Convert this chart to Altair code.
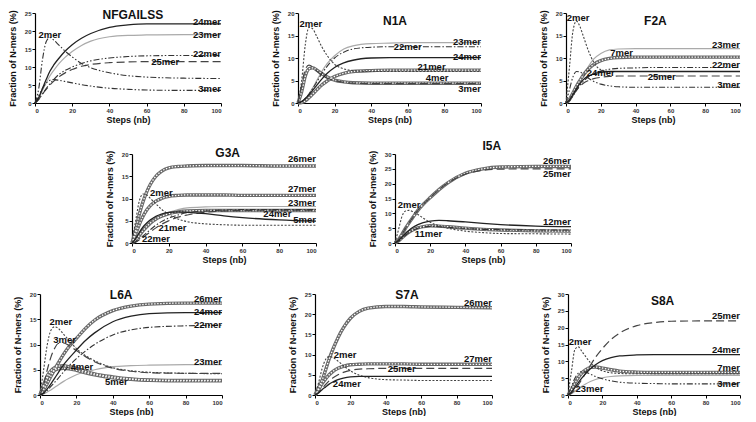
import altair as alt
import pandas as pd

FONT = "Liberation Sans, Arial"
XS = [0, 2, 4, 6, 8, 10, 13, 16, 20, 25, 30, 40, 50, 60, 80, 100]
X_TICKS = [0, 20, 40, 60, 80, 100]

# panel titles and where they sit (data units of each panel)
panel_names = ["NFGAILSS", "N1A", "F2A", "G3A", "I5A", "L6A", "S7A", "S8A"]
title_x = [52.6, 53, 51.4, 52, 55, 44.6, 52, 55]
title_y = [24.5, 18.2, 18.3, 20.2, 32.7, 19.8, 24.8, 28]
y_max = [25, 20, 20, 20, 30, 20, 25, 30]

# ---------------- NFGAILSS ----------------
nfg_24 = [0, 1.5, 4, 6.5, 8.8, 10.5, 12.5, 14.3, 16.2, 18, 19.3, 21, 21.7, 22, 22, 22]
nfg_23 = [0, 1.3, 3.5, 5.6, 7.5, 9, 11, 12.6, 14.3, 16, 17.2, 18.4, 18.8, 18.9, 19, 19]
nfg_2 = [0, 4, 12, 17, 18.2, 17.5, 16, 14.5, 12.8, 11, 9.8, 8.4, 7.6, 7.2, 6.9, 6.8]
nfg_22 = [0, 1, 2.5, 4, 5.3, 6.5, 8, 9, 10, 11, 11.7, 12.5, 12.9, 13.1, 13.2, 13.2]
nfg_25 = [0, 1, 2.5, 3.8, 5, 6, 7.3, 8.3, 9.3, 10.2, 10.7, 11.2, 11.4, 11.5, 11.5, 11.5]
nfg_3 = [0, 2, 4, 5.5, 6.3, 6.5, 6.3, 6, 5.6, 5.1, 4.7, 4.1, 3.8, 3.6, 3.5, 3.5]
nfg_lab = ["24mer", "23mer", "22mer", "25mer", "3mer", "2mer"]
nfg_lab_x = [100, 100, 100, 70, 100, 8]
nfg_lab_y = [22.6, 19, 13.6, 11.5, 3.8, 19]

# ---------------- N1A ----------------
n1a_2 = [0, 5, 13, 16.8, 16.5, 15, 12.5, 10.5, 8.6, 7.6, 7.2, 7, 7, 7, 7, 7]
n1a_23 = [0, 0.3, 1, 2, 3.3, 4.8, 7, 8.8, 10.5, 12, 12.7, 13.2, 13.3, 13.4, 13.4, 13.4]
n1a_22 = [0, 0.3, 1, 2, 3.2, 4.5, 6.5, 8.2, 10, 11.3, 12, 12.4, 12.5, 12.5, 12.5, 12.5]
n1a_24 = [0, 0.3, 1, 1.8, 2.8, 3.8, 5.3, 6.6, 7.9, 8.9, 9.5, 10, 10.1, 10.1, 10.1, 10.1]
n1a_21 = [0, 0.1, 0.5, 1.2, 2, 2.8, 4, 4.9, 5.9, 6.6, 7, 7.2, 7.3, 7.3, 7.3, 7.3]
n1a_4 = [0, 4, 7.5, 8.4, 8, 7.2, 6.2, 5.5, 5, 4.6, 4.4, 4.3, 4.3, 4.3, 4.3, 4.3]
n1a_3 = [0, 2.5, 6, 7.6, 7.8, 7.4, 6.5, 5.8, 5.1, 4.7, 4.5, 4.4, 4.4, 4.4, 4.4, 4.4]
n1a_lab = ["2mer", "23mer", "22mer", "24mer", "21mer", "4mer", "3mer"]
n1a_lab_x = [7, 100, 60, 100, 73, 76, 100]
n1a_lab_y = [17.6, 13.6, 12.4, 10.3, 8.1, 5.6, 3.2]

# ---------------- F2A ----------------
f2a_2 = [0, 8, 16, 18.2, 17, 14.8, 11.5, 9, 7.4, 7, 7, 7, 7, 7, 7, 7]
f2a_23 = [0, 0.5, 1.6, 3, 4.6, 6.2, 8.2, 9.8, 11, 11.8, 12, 12.1, 12.1, 12.1, 12.1, 12.1]
f2a_7 = [0, 0.8, 2.2, 3.7, 5, 6.2, 7.6, 8.6, 9.4, 9.9, 10.1, 10.2, 10.2, 10.2, 10.2, 10.2]
f2a_22 = [0, 0.5, 1.6, 2.8, 3.9, 4.8, 5.8, 6.5, 7.1, 7.5, 7.7, 7.8, 7.9, 7.9, 7.9, 7.9]
f2a_24 = [0, 0.7, 1.9, 3.2, 4.3, 5.2, 6, 6.5, 6.8, 7, 7, 7, 7, 7, 7, 7]
f2a_25 = [0, 0.6, 1.7, 2.8, 3.7, 4.4, 5, 5.4, 5.7, 5.9, 6, 6, 6, 6, 6, 6]
f2a_3 = [0, 3, 5.8, 7, 6.9, 6.4, 5.5, 4.8, 4.2, 3.8, 3.6, 3.5, 3.5, 3.5, 3.5, 3.5]
f2a_lab = ["2mer", "23mer", "7mer", "22mer", "24mer", "25mer", "3mer"]
f2a_lab_x = [7, 100, 32, 100, 20, 55, 100]
f2a_lab_y = [18.9, 12.9, 11.1, 8.5, 6.6, 5.8, 4]

# ---------------- G3A ----------------
g3a_26 = [0, 3, 6.5, 9.3, 11.5, 13.2, 15, 16.1, 16.9, 17.2, 17.3, 17.4, 17.4, 17.4, 17.3, 17.3]
g3a_27 = [0, 2, 4.2, 6, 7.4, 8.4, 9.4, 10, 10.5, 10.7, 10.8, 10.8, 10.8, 10.7, 10.7, 10.7]
g3a_2 = [0, 5, 9.5, 11, 10.8, 10, 8.8, 7.6, 6.4, 5.4, 4.8, 4.3, 4.1, 4, 4, 4]
g3a_23 = [0, 0.5, 1.4, 2.4, 3.3, 4.1, 5.2, 6, 6.9, 7.5, 7.9, 8.1, 8.2, 8.2, 8.2, 8.2]
g3a_24 = [0, 0.3, 0.9, 1.6, 2.3, 3, 4, 4.8, 5.6, 6.3, 6.8, 7.2, 7.4, 7.5, 7.5, 7.5]
g3a_5 = [0, 1, 2.4, 3.6, 4.5, 5.2, 6, 6.5, 6.9, 7, 6.9, 6.6, 6.1, 5.7, 5.2, 4.9]
g3a_21 = [0, 0.6, 1.7, 2.8, 3.7, 4.5, 5.4, 6, 6.6, 7, 7.2, 7.3, 7.3, 7.3, 7.3, 7.3]
g3a_22 = [0, 0.2, 0.7, 1.3, 1.9, 2.5, 3.4, 4.2, 5, 5.8, 6.3, 6.9, 7.2, 7.3, 7.4, 7.4]
g3a_lab = ["26mer", "27mer", "2mer", "23mer", "24mer", "5mer", "21mer", "22mer"]
g3a_lab_x = [100, 100, 16, 100, 79, 100, 22, 13]
g3a_lab_y = [18.8, 12.2, 11.3, 9, 6.6, 5.1, 3.4, 0.8]

# ---------------- I5A ----------------
i5a_26 = [0, 1.2, 3, 5, 6.8, 8.5, 11, 13, 15.3, 18, 20.3, 23.5, 25, 25.6, 25.8, 25.8]
i5a_25 = [0, 1.2, 3, 5, 6.8, 8.5, 11, 13, 15.3, 18, 20.2, 23.2, 24.5, 24.9, 25, 25]
i5a_2 = [0, 4.5, 9, 10.8, 11, 10.6, 9.6, 8.4, 7, 5.8, 5, 4, 3.5, 3.2, 3.1, 3]
i5a_12 = [0, 0.8, 2, 3.2, 4.3, 5.2, 6.2, 6.9, 7.4, 7.6, 7.5, 7.1, 6.6, 6.2, 5.7, 5.5]
i5a_11 = [0, 0.7, 1.8, 2.8, 3.7, 4.4, 5.1, 5.5, 5.8, 5.7, 5.5, 5, 4.6, 4.4, 4.1, 4]
i5a_x = [0, 0.6, 1.6, 2.6, 3.5, 4.2, 5, 5.4, 5.6, 5.5, 5.3, 4.9, 4.6, 4.5, 4.4, 4.4]
i5a_lab = ["26mer", "25mer", "2mer", "12mer", "11mer"]
i5a_lab_x = [100, 100, 8, 100, 19]
i5a_lab_y = [27.8, 23.2, 12.7, 7.2, 3.1]

# ---------------- L6A ----------------
l6a_26 = [0, 1, 2.3, 3.7, 5, 6.3, 8.1, 9.6, 11.2, 13.2, 14.8, 16.7, 17.6, 18, 18.2, 18.2]
l6a_24 = [0, 0.4, 1.2, 2.2, 3.3, 4.4, 6, 7.3, 8.9, 10.8, 12.3, 14.5, 15.6, 16.1, 16.3, 16.3]
l6a_22 = [0, 0.3, 0.9, 1.7, 2.5, 3.3, 4.6, 5.8, 7.2, 8.7, 10, 11.9, 12.9, 13.4, 13.7, 13.8]
l6a_2 = [0, 5, 10, 12.8, 13.5, 13.2, 12, 10.8, 9.2, 7.8, 6.8, 5.4, 4.8, 4.5, 4.3, 4.2]
l6a_3 = [0, 2, 5, 7.5, 9.2, 10.2, 10.3, 9.8, 8.8, 7.6, 6.6, 5.3, 4.7, 4.4, 4.3, 4.3]
l6a_23 = [0, 0.2, 0.6, 1, 1.5, 2, 2.7, 3.3, 4, 4.6, 5, 5.6, 5.8, 5.9, 6, 6]
l6a_4 = [0, 2, 3.8, 4.8, 5.4, 5.7, 5.8, 5.6, 5.3, 4.7, 4.2, 3.6, 3.2, 3, 2.9, 2.9]
l6a_5 = [0, 1.6, 3.3, 4.3, 4.9, 5.2, 5.3, 5.2, 4.9, 4.4, 4, 3.4, 3.1, 2.9, 2.8, 2.8]
l6a_lab = ["26mer", "24mer", "22mer", "2mer", "3mer", "23mer", "4mer", "5mer"]
l6a_lab_x = [100, 100, 100, 11.5, 13.5, 100, 23, 42]
l6a_lab_y = [19, 16.5, 13.9, 14.5, 10.9, 6.6, 5.5, 2.5]

# ---------------- S7A ----------------
s7a_26 = [0, 1.8, 3.6, 6.2, 8.9, 11.2, 14.2, 16.6, 19, 20.7, 21.5, 21.9, 21.9, 21.8, 21.7, 21.6]
s7a_27 = [0, 1.3, 2.8, 4, 5, 5.8, 6.6, 7.1, 7.5, 7.6, 7.7, 7.7, 7.7, 7.6, 7.6, 7.6]
s7a_2 = [0, 3, 6.5, 8.8, 9.5, 9.3, 8.4, 7.3, 6, 4.9, 4.3, 3.8, 3.7, 3.6, 3.6, 3.6]
s7a_25 = [0, 0.6, 1.6, 2.6, 3.5, 4.2, 5, 5.6, 6.1, 6.4, 6.5, 6.6, 6.6, 6.6, 6.6, 6.6]
s7a_24 = [0, 0.5, 1.3, 2, 2.7, 3.2, 3.8, 4.2, 4.5, 4.6, 4.6, 4.6, 4.6, 4.6, 4.6, 4.6]
s7a_lab = ["26mer", "2mer", "27mer", "25mer", "24mer"]
s7a_lab_x = [100, 17, 100, 49, 18]
s7a_lab_y = [22.8, 9.8, 9, 6.4, 2.6]

# ---------------- S8A ----------------
s8a_25 = [0, 0.5, 1.6, 3, 4.6, 6.3, 8.8, 11.2, 13.8, 16.5, 18.4, 20.6, 21.5, 21.9, 22, 22]
s8a_2 = [0, 7, 13.5, 14.3, 13, 11.6, 9.6, 8.3, 7.2, 6.6, 6.4, 6.3, 6.3, 6.3, 6.3, 6.3]
s8a_24 = [0, 0.8, 2.2, 3.7, 5, 6.2, 7.8, 9, 10.2, 11.1, 11.6, 11.9, 12, 12, 12, 12]
s8a_7 = [0, 1.5, 3.5, 5.2, 6.5, 7.4, 8.2, 8.3, 8, 7.5, 7.1, 6.8, 6.7, 6.7, 6.7, 6.7]
s8a_23 = [0, 0.4, 1.1, 1.9, 2.6, 3.2, 4, 4.6, 5.1, 5.5, 5.7, 5.8, 5.8, 5.8, 5.8, 5.8]
s8a_3 = [0, 2.5, 5, 6.5, 7, 6.8, 6.2, 5.5, 4.8, 4.2, 3.8, 3.5, 3.4, 3.3, 3.3, 3.3]
s8a_lab = ["25mer", "2mer", "24mer", "7mer", "3mer", "23mer"]
s8a_lab_x = [100, 7, 100, 100, 100, 12.5]
s8a_lab_y = [23.5, 15.8, 13.4, 8, 3.2, 1.7]

# line styles (each style may be drawn as several stacked strokes)
STYLES = {
    "light": [dict(color="#aaaaaa", strokeWidth=1.2)],
    "bead": [dict(color="#6a6a6a", strokeWidth=3.4),
             dict(color="#ffffff", strokeWidth=1.3, strokeDash=[1.4, 1.6])],
    "dash": [dict(color="#444444", strokeWidth=1.2, strokeDash=[8, 4])],
    "dashdot": [dict(color="#333333", strokeWidth=1.1, strokeDash=[6, 2, 1.5, 2])],
    "dashdotdot": [dict(color="#333333", strokeWidth=1.1, strokeDash=[6, 2, 1.5, 2, 1.5, 2])],
    "dot": [dict(color="#444444", strokeWidth=1.1, strokeDash=[2, 1.6])],
    "solid": [dict(color="#222222", strokeWidth=1.3)],
}

SERIES = [
    [("24mer", "solid", nfg_24), ("23mer", "light", nfg_23), ("2mer", "dashdotdot", nfg_2),
     ("22mer", "dashdotdot", nfg_22), ("25mer", "dash", nfg_25), ("3mer", "dashdotdot", nfg_3)],
    [("2mer", "dot", n1a_2), ("23mer", "light", n1a_23), ("22mer", "dashdot", n1a_22),
     ("24mer", "solid", n1a_24), ("21mer", "bead", n1a_21), ("4mer", "dash", n1a_4), ("3mer", "bead", n1a_3)],
    [("2mer", "dot", f2a_2), ("23mer", "light", f2a_23), ("7mer", "bead", f2a_7),
     ("22mer", "dashdotdot", f2a_22), ("24mer", "solid", f2a_24), ("25mer", "dash", f2a_25),
     ("3mer", "dashdotdot", f2a_3)],
    [("26mer", "bead", g3a_26), ("27mer", "bead", g3a_27), ("2mer", "dot", g3a_2),
     ("23mer", "light", g3a_23), ("24mer", "dashdot", g3a_24), ("5mer", "solid", g3a_5),
     ("21mer", "bead", g3a_21), ("22mer", "dash", g3a_22)],
    [("26mer", "bead", i5a_26), ("25mer", "dash", i5a_25), ("2mer", "dot", i5a_2),
     ("12mer", "solid", i5a_12), ("11mer", "bead", i5a_11), ("other", "dashdot", i5a_x)],
    [("26mer", "bead", l6a_26), ("24mer", "solid", l6a_24), ("22mer", "dashdot", l6a_22),
     ("2mer", "dot", l6a_2), ("3mer", "dash", l6a_3), ("23mer", "light", l6a_23),
     ("4mer", "bead", l6a_4), ("5mer", "bead", l6a_5)],
    [("26mer", "bead", s7a_26), ("27mer", "bead", s7a_27), ("2mer", "dot", s7a_2),
     ("25mer", "dash", s7a_25), ("24mer", "solid", s7a_24)],
    [("25mer", "dash", s8a_25), ("2mer", "dot", s8a_2), ("24mer", "solid", s8a_24),
     ("7mer", "bead", s8a_7), ("23mer", "light", s8a_23), ("3mer", "dashdotdot", s8a_3)],
]
LABELS = [(nfg_lab, nfg_lab_x, nfg_lab_y), (n1a_lab, n1a_lab_x, n1a_lab_y), (f2a_lab, f2a_lab_x, f2a_lab_y),
          (g3a_lab, g3a_lab_x, g3a_lab_y), (i5a_lab, i5a_lab_x, i5a_lab_y), (l6a_lab, l6a_lab_x, l6a_lab_y),
          (s7a_lab, s7a_lab_x, s7a_lab_y), (s8a_lab, s8a_lab_x, s8a_lab_y)]

# layout (pixels): plot sizes
WIDTHS = [186, 183, 174, 184, 176, 182, 177, 172]
HEIGHTS = [90, 90, 90, 89, 89, 101, 101, 101]


def spacer(w, h=1):
    return alt.Chart(pd.DataFrame({"a": [0]})).mark_point(opacity=0, size=0).encode(
        x=alt.value(0), y=alt.value(0)).properties(width=w, height=h)


def panel(i):
    rows = []
    for name, st, vals in SERIES[i]:
        for x, y in zip(XS, vals):
            rows.append({"x": x, "y": y, "s": name, "st": st})
    df = pd.DataFrame(rows)
    ym = y_max[i]
    xenc = alt.X("x:Q", scale=alt.Scale(domain=[0, 100], nice=False),
                 axis=alt.Axis(values=X_TICKS, title="Steps (nb)"))
    yenc = alt.Y("y:Q", scale=alt.Scale(domain=[0, ym], nice=False),
                 axis=alt.Axis(values=list(range(0, ym + 1, 5)), title="Fraction of N-mers (%)"))
    layers = []
    for st, strokes in STYLES.items():
        sub = df[df["st"] == st]
        if sub.empty:
            continue
        for props in strokes:
            layers.append(alt.Chart(sub).mark_line(interpolate="monotone", **props)
                          .encode(x=xenc, y=yenc, detail="s:N"))
    t, lx, ly = LABELS[i]
    ldf = pd.DataFrame({"x": lx, "y": ly, "t": t})
    right = ldf[ldf["x"] >= 99]
    mid = ldf[ldf["x"] < 99]
    tprops = dict(font=FONT, fontSize=9.5, fontWeight="bold", color="#111111", baseline="middle")
    layers.append(alt.Chart(right).mark_text(align="right", **tprops).encode(x=xenc, y=yenc, text="t:N"))
    layers.append(alt.Chart(mid).mark_text(align="center", **tprops).encode(x=xenc, y=yenc, text="t:N"))
    tdf = pd.DataFrame({"x": [title_x[i]], "y": [title_y[i]], "t": [panel_names[i]]})
    layers.append(alt.Chart(tdf).mark_text(font=FONT, fontSize=12, fontWeight="bold", color="#111111",
                                           baseline="middle", align="center")
                  .encode(x=xenc, y=yenc, text="t:N"))
    return alt.layer(*layers).properties(width=WIDTHS[i], height=HEIGHTS[i])


P = [panel(i) for i in range(8)]
row1 = alt.hconcat(P[0], spacer(76.5), P[1], spacer(84.3), P[2], spacing=0, bounds="flush")
row2 = alt.hconcat(spacer(97), P[3], spacer(78.5), P[4], spacing=0, bounds="flush")
row3 = alt.hconcat(spacer(4.8), P[5], spacer(92.2), P[6], spacer(75.6), P[7], spacing=0, bounds="flush")
chart = alt.vconcat(row1, alt.vconcat(row2, row3, spacing=24), spacing=15)

chart = chart.configure_view(stroke=None).configure_axis(
    grid=False, domainColor="#000000", tickColor="#000000", domainWidth=1.2, tickWidth=1, tickSize=3,
    labelFont=FONT, labelFontSize=6, labelFontWeight="bold", labelColor="#333333", labelPadding=1,
    titleFont=FONT, titleFontWeight="bold", titleColor="#111111",
).configure_axisX(titleFontSize=9, titlePadding=2).configure_axisY(titleFontSize=9, titlePadding=7
).properties(padding=0)

chart.save("out.html", embed_options={"renderer": "svg", "actions": False})
